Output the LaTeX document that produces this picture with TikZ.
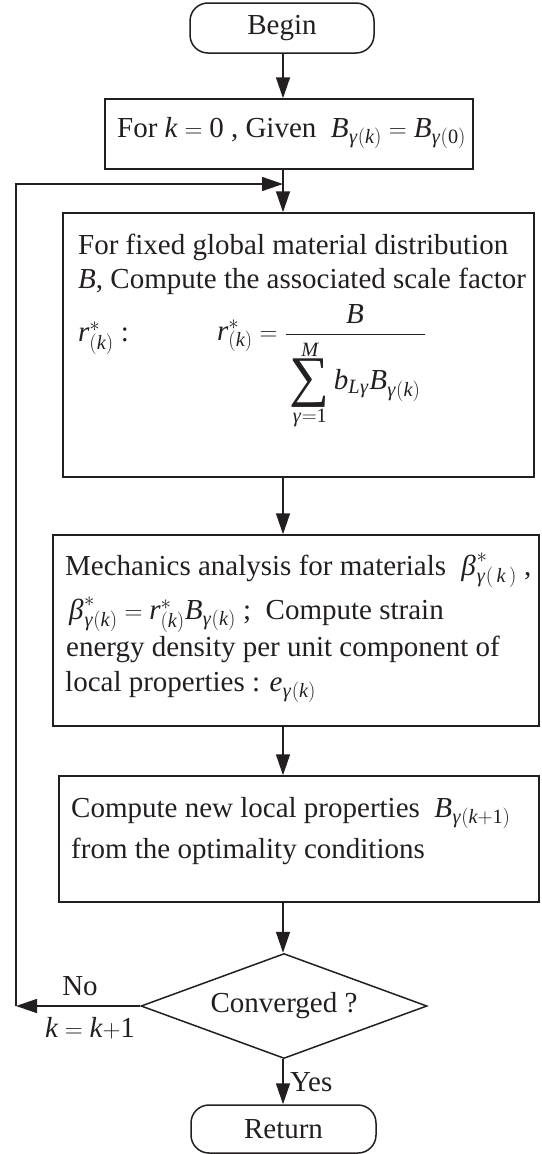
\documentclass[tikz,border=0pt]{standalone}
\usepackage{mathspec}
\setmainfont{Liberation Serif}
\setmathsfont(Digits,Latin,Greek){Liberation Serif}
\usetikzlibrary{arrows.meta,shapes.geometric}
\definecolor{ink}{HTML}{231F20}
\newcommand{\bigsumop}{\mathop{\vcenter{\hbox{\fontsize{56}{56}\selectfont ∑}}}\limits}
\tikzset{
  every node/.style={font=\fontsize{29}{34}\selectfont, text=ink},
  boxnode/.style={draw=ink, line width=1.5pt, rectangle, inner sep=0pt},
  termnode/.style={draw=ink, line width=1.5pt, rectangle, rounded corners=18pt, inner sep=0pt},
  decnode/.style={draw=ink, line width=1.5pt, diamond, aspect=2.72, inner sep=0pt, minimum width=286pt, minimum height=105pt},
  txt/.style={anchor=base west, inner sep=0pt},
  arr/.style={draw=ink, line width=1.5pt, -{Triangle[length=21pt,width=14pt]}}
}
\begin{document}
\begin{tikzpicture}[x=1pt,y=-1pt]
\useasboundingbox (0,0) rectangle (541,1154);
% shapes
\node[termnode, minimum width=184pt, minimum height=50pt] (begin) at (282,28) {Begin};
\node[boxnode, minimum width=368pt, minimum height=70pt] (b2) at (289,134) {};
\node[boxnode, minimum width=471pt, minimum height=264pt] (b3) at (298.5,345) {};
\node[boxnode, minimum width=486pt, minimum height=191pt] (b4) at (296,630.5) {};
\node[boxnode, minimum width=480pt, minimum height=126pt] (b5) at (299,839) {};
\node[decnode] (dec) at (284,1006) {Converged ?};
\node[termnode, minimum width=185pt, minimum height=48pt] (ret) at (283.5,1129) {Return};
% texts
\node[txt] (t2) at (117,137) {For $k=0$ , Given \ $B_{\gamma(k)}=B_{\gamma(0)}$};
\node[txt] (t3a) at (78,254) {For fixed global material distribution};
\node[txt] (t3b) at (78,288) {$B$, Compute the associated scale factor};
\node[txt] (t3c) at (78,341) {$r^{*}_{(k)}$ :};
\node[txt] (t3d) at (217,340) {$\displaystyle r^{*}_{(k)}=\frac{B}{\rule{0pt}{54pt}\displaystyle\bigsumop_{\gamma=1}^{M} b_{L\gamma}B_{\gamma(k)}\,}$};
\node[txt] (t4a) at (65,575) {Mechanics analysis for materials \ $\beta^{*}_{\gamma(\,k\,)}$ ,};
\node[txt] (t4b) at (68,619) {$\beta^{*}_{\gamma(k)}=r^{*}_{(k)}B_{\gamma(k)}$ ; \ Compute strain};
\node[txt] (t4c) at (66,656) {energy density per unit component of};
\node[txt] (t4d) at (65,691) {local properties : $e_{\gamma(k)}$};
\node[txt] (t5a) at (71,817) {Compute new local properties \ $B_{\gamma(k+1)}$};
\node[txt] (t5b) at (71,858) {from the optimality conditions};
\node (no) at (80,986) {No};
\node (kk) at (90,1028) {$k=k{+}1$};
\node[anchor=west, inner sep=0pt] (yes) at (290,1082) {Yes};
% connectors
\coordinate (ax) at (283,0);
\coordinate (lb) at (16,1006);
\coordinate (lt) at (16,184);
\coordinate (jn) at (283,184);
\draw[arr] (begin.south -| ax) -- (ax |- b2.north);
\draw[arr] (ax |- b2.south) -- (ax |- b3.north);
\draw[arr] (ax |- b3.south) -- (ax |- b4.north);
\draw[arr] (ax |- b4.south) -- (ax |- b5.north);
\draw[arr] (ax |- b5.south) -- (ax |- dec.north);
\draw[arr] (ax |- dec.south) -- (ax |- ret.north);
\draw[arr] (dec.west) -- (lb);
\draw[arr] (lb) -- (lt) -- (jn);
\end{tikzpicture}
\end{document}
